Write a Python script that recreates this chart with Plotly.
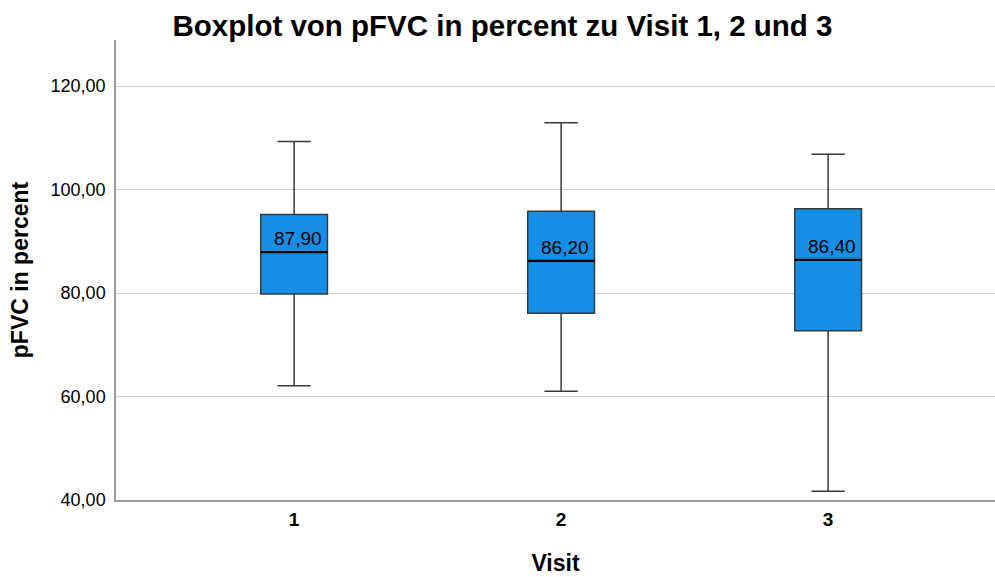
import plotly.graph_objects as go

# Box statistics per visit (pFVC in percent)
visits = ["1", "2", "3"]
q1 = [79.8, 76.1, 72.7]
median = [87.9, 86.2, 86.4]
q3 = [95.2, 95.8, 96.3]
lower_whisker = [62.1, 61.0, 41.7]
upper_whisker = [109.3, 112.9, 106.8]

box_color = "#158fe5"
box_width = 0.25

fig = go.Figure()
fig.add_trace(go.Box(
    x=visits,
    q1=q1,
    median=median,
    q3=q3,
    lowerfence=lower_whisker,
    upperfence=upper_whisker,
    fillcolor=box_color,
    line=dict(color="#3a3a3a", width=1.5),
    width=box_width,
    whiskerwidth=0.5,
    boxpoints=False,
    hoverinfo="skip",
    showlegend=False,
))

# Heavier median bars and median value labels
for i, m in enumerate(median):
    fig.add_shape(
        type="line", xref="x", yref="y",
        x0=i - box_width / 2, x1=i + box_width / 2, y0=m, y1=m,
        line=dict(color="black", width=2.2),
    )
    fig.add_annotation(
        x=i + box_width / 2, y=m, xref="x", yref="y",
        text=f"{m:.2f}".replace(".", ","),
        showarrow=False, xanchor="right", yanchor="bottom",
        xshift=-3, yshift=1,
        font=dict(family="Liberation Sans, Arial", size=19, color="black"),
    )

fig.update_layout(
    width=995, height=577,
    margin=dict(l=116, r=0, t=40, b=77),
    paper_bgcolor="white", plot_bgcolor="white",
    separators=",.",
    font=dict(family="Liberation Sans, Arial", color="black"),
    title=dict(
        text="<b>Boxplot von pFVC in percent zu Visit 1, 2 und 3</b>",
        x=0.505, xref="container", xanchor="center",
        y=0.955, yref="container", yanchor="middle",
        font=dict(size=29.5, color="black"),
    ),
    xaxis=dict(
        type="category",
        range=[-0.667, 2.625],
        showgrid=False,
        showline=True, linecolor="#9a9a9a", linewidth=1.5,
        ticks="", ticklabelstandoff=1,
        tickfont=dict(size=19, color="black", weight="bold"),
        title=dict(text="<b>Visit</b>", font=dict(size=23), standoff=26),
        zeroline=False,
    ),
    yaxis=dict(
        range=[40, 128.9],
        tickvals=[40, 60, 80, 100, 120],
        tickformat=".2f",
        showgrid=True, gridcolor="#cfcfcf", gridwidth=1.2,
        showline=True, linecolor="#9a9a9a", linewidth=1.5,
        ticks="", ticklabelstandoff=5,
        tickfont=dict(size=18, color="black"),
        title=dict(text="<b>pFVC in percent</b>", font=dict(size=23), standoff=16),
        zeroline=False,
    ),
)

fig.write_html("out.html")
